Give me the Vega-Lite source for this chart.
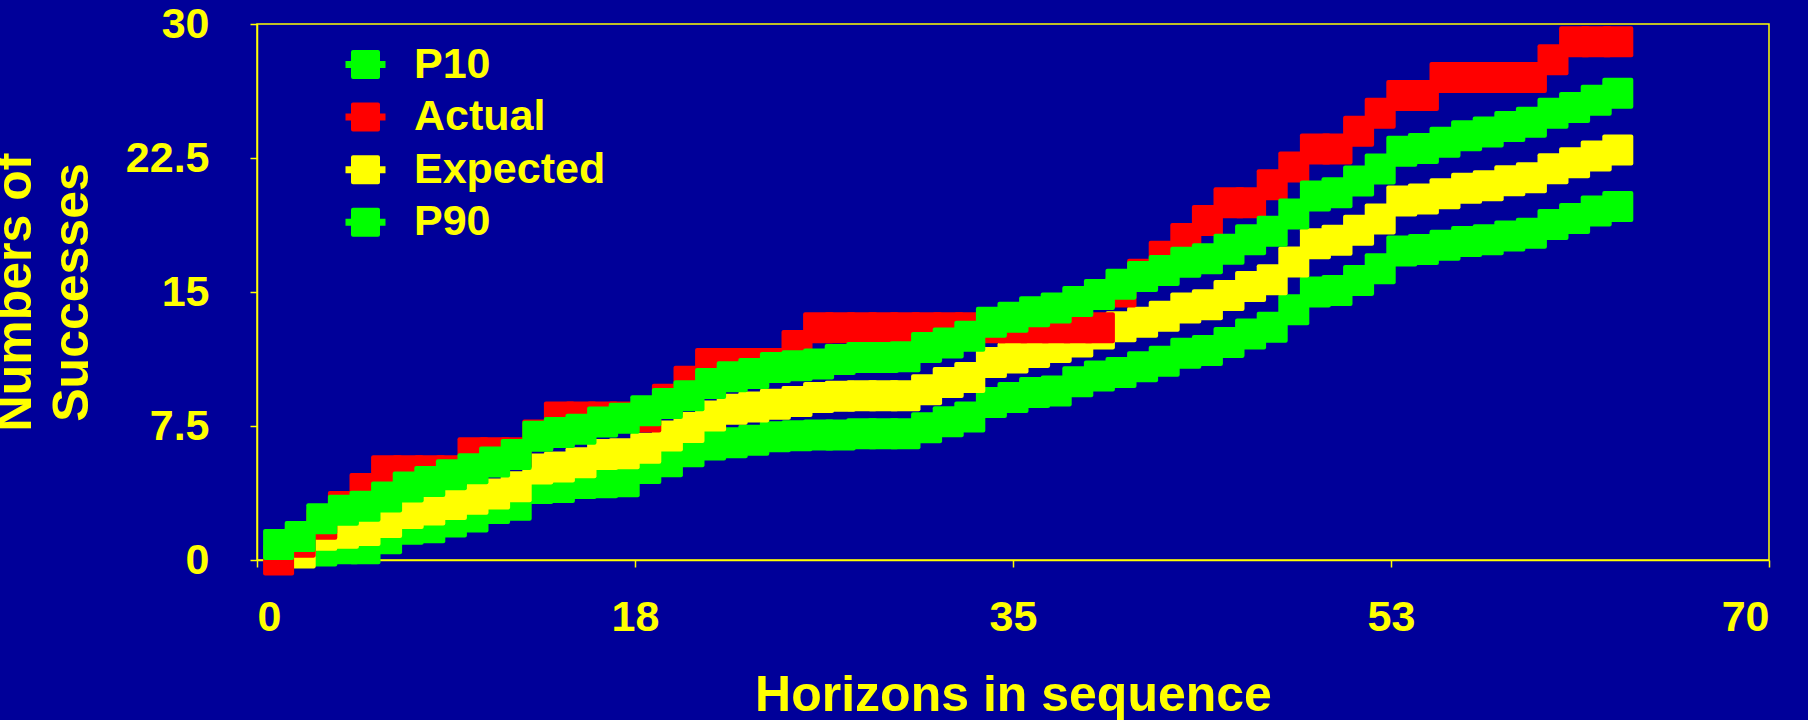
{
  "$schema": "https://vega.github.io/schema/vega-lite/v6.json",
  "width": 1512,
  "height": 536,
  "autosize": {"type": "none"},
  "padding": {"left": 257, "top": 24, "right": 39, "bottom": 160},
  "background": "#000099",
  "config": {
    "view": {"stroke": "#FFFF00", "strokeWidth": 1.5},
    "font": "Liberation Sans",
    "axis": {
      "grid": false,
      "domainColor": "#FFFF00",
      "domainWidth": 1.5,
      "tickColor": "#FFFF00",
      "tickWidth": 1.5,
      "tickSize": 7,
      "labelColor": "#FFFF00",
      "labelFont": "Liberation Sans",
      "labelFontWeight": "bold",
      "labelFontSize": 43,
      "titleColor": "#FFFF00",
      "titleFont": "Liberation Sans",
      "titleFontWeight": "bold",
      "titleFontSize": 50
    },
    "legend": {
      "orient": "none",
      "legendX": 87,
      "legendY": 19,
      "padding": 0,
      "symbolType": "M-1,-0.175H1V0.175H-1Z M-0.625,-0.725H0.625Q0.725,-0.725 0.725,-0.625V0.625Q0.725,0.725 0.625,0.725H-0.625Q-0.725,0.725 -0.725,0.625V-0.625Q-0.725,-0.725 -0.625,-0.725Z",
      "symbolSize": 1600,
      "symbolStrokeWidth": 0,
      "symbolOpacity": 1,
      "labelFont": "Liberation Sans",
      "labelFontWeight": "bold",
      "labelFontSize": 43,
      "labelColor": "#FFFF00",
      "labelOffset": 27,
      "rowPadding": 8.6,
      "labelLimit": 400
    }
  },
  "data": {
    "values": [
      {"h": 1, "P10": 0.87, "Actual": 0, "Expected": null, "P90": null},
      {"h": 2, "P10": 1.32, "Actual": 1, "Expected": 0.39, "P90": null},
      {"h": 3, "P10": 2.31, "Actual": 2, "Expected": 1.38, "P90": 0.5},
      {"h": 4, "P10": 2.78, "Actual": 3, "Expected": 1.5, "P90": 0.63},
      {"h": 5, "P10": 3.01, "Actual": 4, "Expected": 1.65, "P90": 0.63},
      {"h": 6, "P10": 3.53, "Actual": 5, "Expected": 2.1, "P90": 1.19},
      {"h": 7, "P10": 4.09, "Actual": 5, "Expected": 2.6, "P90": 1.72},
      {"h": 8, "P10": 4.39, "Actual": 5, "Expected": 2.8, "P90": 1.81},
      {"h": 9, "P10": 4.77, "Actual": 5, "Expected": 3.1, "P90": 2.12},
      {"h": 10, "P10": 5.11, "Actual": 6, "Expected": 3.4, "P90": 2.4},
      {"h": 11, "P10": 5.48, "Actual": 6, "Expected": 3.7, "P90": 2.88},
      {"h": 12, "P10": 5.91, "Actual": 6, "Expected": 4.1, "P90": 3.06},
      {"h": 13, "P10": 6.92, "Actual": 7, "Expected": 5.1, "P90": 4.0},
      {"h": 14, "P10": 7.14, "Actual": 8, "Expected": 5.2, "P90": 4.06},
      {"h": 15, "P10": 7.32, "Actual": 8, "Expected": 5.44, "P90": 4.28},
      {"h": 16, "P10": 7.73, "Actual": 8, "Expected": 5.91, "P90": 4.32},
      {"h": 17, "P10": 7.93, "Actual": 8, "Expected": 5.95, "P90": 4.38},
      {"h": 18, "P10": 8.35, "Actual": 8, "Expected": 6.25, "P90": 5.12},
      {"h": 19, "P10": 8.76, "Actual": 9, "Expected": 6.94, "P90": 5.5},
      {"h": 20, "P10": 9.19, "Actual": 10, "Expected": 7.41, "P90": 6.06},
      {"h": 21, "P10": 9.88, "Actual": 11, "Expected": 8.06, "P90": 6.43},
      {"h": 22, "P10": 10.25, "Actual": 11, "Expected": 8.44, "P90": 6.56},
      {"h": 23, "P10": 10.44, "Actual": 11, "Expected": 8.57, "P90": 6.7},
      {"h": 24, "P10": 10.78, "Actual": 11, "Expected": 8.72, "P90": 6.9},
      {"h": 25, "P10": 10.87, "Actual": 12, "Expected": 8.87, "P90": 6.96},
      {"h": 26, "P10": 10.97, "Actual": 13, "Expected": 9.09, "P90": 7.0},
      {"h": 27, "P10": 11.22, "Actual": 13, "Expected": 9.17, "P90": 7.0},
      {"h": 28, "P10": 11.34, "Actual": 13, "Expected": 9.19, "P90": 7.07},
      {"h": 29, "P10": 11.34, "Actual": 13, "Expected": 9.19, "P90": 7.07},
      {"h": 30, "P10": 11.38, "Actual": 13, "Expected": 9.19, "P90": 7.07},
      {"h": 31, "P10": 11.9, "Actual": 13, "Expected": 9.53, "P90": 7.4},
      {"h": 32, "P10": 12.15, "Actual": 13, "Expected": 9.94, "P90": 7.74},
      {"h": 33, "P10": 12.52, "Actual": 13, "Expected": 10.22, "P90": 8.0},
      {"h": 34, "P10": 13.3, "Actual": 13, "Expected": 11.06, "P90": 8.81},
      {"h": 35, "P10": 13.59, "Actual": 13, "Expected": 11.3, "P90": 9.09},
      {"h": 36, "P10": 13.9, "Actual": 13, "Expected": 11.62, "P90": 9.37},
      {"h": 37, "P10": 14.11, "Actual": 13, "Expected": 11.9, "P90": 9.46},
      {"h": 38, "P10": 14.47, "Actual": 13, "Expected": 12.2, "P90": 9.97},
      {"h": 39, "P10": 14.86, "Actual": 13, "Expected": 12.65, "P90": 10.3},
      {"h": 40, "P10": 15.44, "Actual": 15, "Expected": 13.05, "P90": 10.5},
      {"h": 41, "P10": 15.87, "Actual": 16, "Expected": 13.31, "P90": 10.82},
      {"h": 42, "P10": 16.2, "Actual": 17, "Expected": 13.64, "P90": 11.12},
      {"h": 43, "P10": 16.67, "Actual": 18, "Expected": 14.1, "P90": 11.57},
      {"h": 44, "P10": 16.86, "Actual": 19, "Expected": 14.29, "P90": 11.72},
      {"h": 45, "P10": 17.39, "Actual": 20, "Expected": 14.8, "P90": 12.18},
      {"h": 46, "P10": 17.93, "Actual": 20, "Expected": 15.31, "P90": 12.65},
      {"h": 47, "P10": 18.4, "Actual": 21, "Expected": 15.68, "P90": 13.03},
      {"h": 48, "P10": 19.37, "Actual": 22, "Expected": 16.68, "P90": 14.0},
      {"h": 49, "P10": 20.37, "Actual": 23, "Expected": 17.7, "P90": 15.0},
      {"h": 50, "P10": 20.55, "Actual": 23, "Expected": 17.9, "P90": 15.08},
      {"h": 51, "P10": 21.21, "Actual": 24, "Expected": 18.46, "P90": 15.65},
      {"h": 52, "P10": 21.88, "Actual": 25, "Expected": 19.08, "P90": 16.3},
      {"h": 53, "P10": 22.88, "Actual": 26, "Expected": 20.09, "P90": 17.29},
      {"h": 54, "P10": 23.03, "Actual": 26, "Expected": 20.21, "P90": 17.38},
      {"h": 55, "P10": 23.38, "Actual": 27, "Expected": 20.5, "P90": 17.61},
      {"h": 56, "P10": 23.75, "Actual": 27, "Expected": 20.8, "P90": 17.83},
      {"h": 57, "P10": 23.96, "Actual": 27, "Expected": 20.94, "P90": 17.93},
      {"h": 58, "P10": 24.26, "Actual": 27, "Expected": 21.22, "P90": 18.14},
      {"h": 59, "P10": 24.5, "Actual": 27, "Expected": 21.39, "P90": 18.29},
      {"h": 60, "P10": 25.0, "Actual": 28, "Expected": 21.9, "P90": 18.78},
      {"h": 61, "P10": 25.33, "Actual": 29, "Expected": 22.24, "P90": 19.11},
      {"h": 62, "P10": 25.73, "Actual": 29, "Expected": 22.61, "P90": 19.53},
      {"h": 63, "P10": 26.13, "Actual": 29, "Expected": 22.95, "P90": 19.79}
    ]
  },
  "encoding": {
    "x": {
      "field": "h",
      "type": "quantitative",
      "scale": {"domain": [0, 70], "nice": false, "zero": false},
      "axis": {"values": [0, 17.5, 35, 52.5, 70], "format": ".0f", "labelPadding": 29, "title": "Horizons in sequence", "titlePadding": 31}
    }
  },
  "layer": [
    {
      "mark": {"type": "point", "shape": "M-0.87,-1H0.87Q1,-1 1,-0.87V0.87Q1,1 0.87,1H-0.87Q-1,1 -1,0.87V-0.87Q-1,-1 -0.87,-1Z", "filled": true, "size": 961, "opacity": 1, "strokeWidth": 0},
      "encoding": {
        "y": {"field": "P90", "type": "quantitative", "scale": {"domain": [0, 30], "nice": false}, "axis": {"values": [0, 7.5, 15, 22.5, 30], "format": ".1~f", "labelPadding": 41, "title": ["Numbers of", "Successes"], "titleLineHeight": 57, "titlePadding": 28}},
        "color": {"datum": "P90", "type": "nominal", "scale": {"domain": ["P10", "Actual", "Expected", "P90"], "range": ["#00FF00", "#FF0000", "#FFFF00", "#00FF00"]}, "legend": {"title": null}}
      }
    },
    {
      "mark": {"type": "point", "shape": "M-0.87,-1H0.87Q1,-1 1,-0.87V0.87Q1,1 0.87,1H-0.87Q-1,1 -1,0.87V-0.87Q-1,-1 -0.87,-1Z", "filled": true, "size": 961, "opacity": 1, "strokeWidth": 0},
      "encoding": {
        "y": {"field": "Expected", "type": "quantitative"},
        "color": {"datum": "Expected", "type": "nominal"}
      }
    },
    {
      "mark": {"type": "point", "shape": "M-0.87,-1H0.87Q1,-1 1,-0.87V0.87Q1,1 0.87,1H-0.87Q-1,1 -1,0.87V-0.87Q-1,-1 -0.87,-1Z", "filled": true, "size": 961, "opacity": 1, "strokeWidth": 0},
      "encoding": {
        "y": {"field": "Actual", "type": "quantitative"},
        "color": {"datum": "Actual", "type": "nominal"}
      }
    },
    {
      "mark": {"type": "point", "shape": "M-0.87,-1H0.87Q1,-1 1,-0.87V0.87Q1,1 0.87,1H-0.87Q-1,1 -1,0.87V-0.87Q-1,-1 -0.87,-1Z", "filled": true, "size": 961, "opacity": 1, "strokeWidth": 0},
      "encoding": {
        "y": {"field": "P10", "type": "quantitative"},
        "color": {"datum": "P10", "type": "nominal"}
      }
    }
  ]
}
